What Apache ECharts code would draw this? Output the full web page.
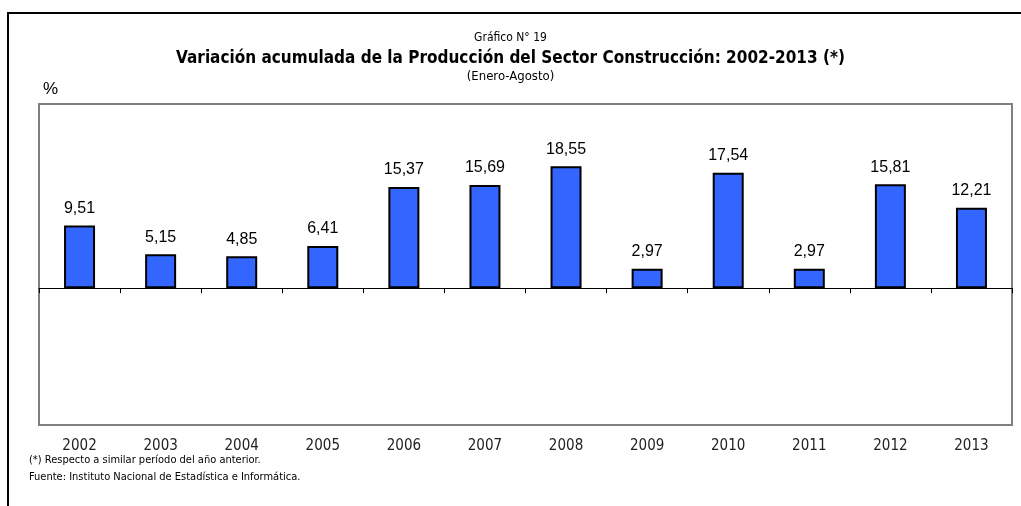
<!DOCTYPE html>
<html>
<head>
<meta charset="utf-8">
<script src="https://cdn.jsdelivr.net/npm/echarts@6/dist/echarts.min.js"></script>
<style>
  html, body { margin: 0; padding: 0; background: #fff; }
  #chart { width: 1021px; height: 506px; }
</style>
</head>
<body>
<div id="chart"></div>
<script>
// years on the x axis
const YEARS = ['2002', '2003', '2004', '2005', '2006', '2007', '2008', '2009', '2010', '2011', '2012', '2013']

// accumulated variation, % (Jan-Aug)
const VARIATION = [9.51, 5.15, 4.85, 6.41, 15.37, 15.69, 18.55, 2.97, 17.54, 2.97, 15.81, 12.21]

const BAR_COLOR = '#3366ff'
const FRAME_GRAY = '#808080'
const NARROW = "'Liberation Sans Narrow', 'DejaVu Sans Condensed', sans-serif"
const SANS = "'Liberation Sans', Arial, sans-serif"

const fmt = (v) => v.toFixed(2).replace('.', ',')

const chart = echarts.init(document.getElementById('chart'))

chart.setOption({
  animation: false,
  grid: {
    left: 39,
    right: 9,
    top: 104,
    bottom: 81,
    show: true,
    borderColor: FRAME_GRAY,
    borderWidth: 2,
    backgroundColor: '#fff'
  },
  graphic: [
    // outer frame, only left and top edges are visible
    {
      type: 'rect',
      shape: { x: 8, y: 13, width: 1100, height: 600 },
      style: { fill: 'none', stroke: '#000', lineWidth: 2 },
      silent: true
    },
    {
      type: 'text',
      left: 'center',
      top: 32,
      style: { text: 'Gráfico N° 19', font: '12px ' + NARROW, fill: '#000' }
    },
    {
      type: 'text',
      left: 'center',
      top: 50,
      style: { text: 'Variación acumulada de la Producción del Sector Construcción: 2002-2013 (*)', font: 'bold 17px ' + NARROW, fill: '#000' }
    },
    {
      type: 'text',
      left: 'center',
      top: 70,
      style: { text: '(Enero-Agosto)', font: '13px ' + NARROW, fill: '#000' }
    },
    {
      type: 'text',
      left: 43,
      top: 81,
      style: { text: '%', font: '17px ' + SANS, fill: '#000' }
    },
    {
      type: 'text',
      left: 29,
      top: 455,
      style: { text: '(*) Respecto a similar período del año anterior.', font: '11px ' + NARROW, fill: '#000' }
    },
    {
      type: 'text',
      left: 29,
      top: 472,
      style: { text: 'Fuente: Instituto Nacional de Estadística e Informática.', font: '11px ' + NARROW, fill: '#000' }
    }
  ],
  xAxis: [
    {
      // year labels along the bottom of the plot box
      type: 'category',
      data: YEARS,
      position: 'bottom',
      axisLine: { show: false, onZero: false },
      axisTick: { show: false },
      axisLabel: { margin: 14, color: '#222', fontFamily: NARROW, fontSize: 15 }
    },
    {
      // zero line with boundary ticks
      type: 'category',
      data: YEARS,
      position: 'top',
      axisLine: { show: true, onZero: true, lineStyle: { color: '#000', width: 1 } },
      axisTick: { show: true, inside: true, length: 5, lineStyle: { color: '#000' } },
      axisLabel: { show: false }
    }
  ],
  yAxis: {
    type: 'value',
    min: -20.8,
    max: 28,
    axisLine: { show: false },
    axisTick: { show: false },
    axisLabel: { show: false },
    splitLine: { show: false }
  },
  series: [
    {
      type: 'bar',
      xAxisIndex: 0,
      data: VARIATION,
      barWidth: 31,
      itemStyle: { color: BAR_COLOR, borderColor: '#000', borderWidth: 2 },
      label: {
        show: true,
        position: 'top',
        distance: 9,
        color: '#000',
        fontFamily: SANS,
        fontSize: 16,
        formatter: (p) => fmt(p.value)
      }
    }
  ]
})
</script>
</body>
</html>
